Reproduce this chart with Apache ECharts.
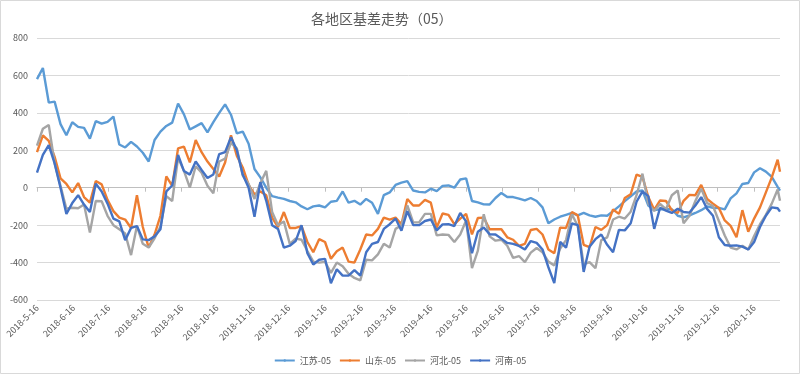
<!DOCTYPE html>
<html><head><meta charset="utf-8">
<script src="https://cdn.jsdelivr.net/npm/echarts@6/dist/echarts.min.js"></script>
<style>html,body{margin:0;padding:0;background:#fff}#c{width:800px;height:374px}</style>
</head><body><div id="c"></div>
<script>
// ---- data ----
const seriesNames = ['江苏-05', '山东-05', '河北-05', '河南-05'];
const dates = [
'2018-5-16','2018-5-21','2018-5-26','2018-5-31','2018-6-5','2018-6-10','2018-6-15','2018-6-20','2018-6-25','2018-6-30',
'2018-7-5','2018-7-10','2018-7-15','2018-7-20','2018-7-25','2018-7-30','2018-8-4','2018-8-9','2018-8-14','2018-8-19',
'2018-8-24','2018-8-29','2018-9-3','2018-9-8','2018-9-13','2018-9-18','2018-9-23','2018-9-28','2018-10-3','2018-10-8',
'2018-10-13','2018-10-18','2018-10-23','2018-10-28','2018-11-2','2018-11-7','2018-11-12','2018-11-17','2018-11-22','2018-11-27',
'2018-12-2','2018-12-7','2018-12-12','2018-12-17','2018-12-22','2018-12-27','2019-1-1','2019-1-6','2019-1-11','2019-1-16',
'2019-1-21','2019-1-26','2019-1-31','2019-2-5','2019-2-10','2019-2-15','2019-2-20','2019-2-25','2019-3-2','2019-3-7',
'2019-3-12','2019-3-17','2019-3-22','2019-3-27','2019-4-1','2019-4-6','2019-4-11','2019-4-16','2019-4-21','2019-4-26',
'2019-5-1','2019-5-6','2019-5-11','2019-5-16','2019-5-21','2019-5-26','2019-5-31','2019-6-5','2019-6-10','2019-6-15',
'2019-6-20','2019-6-25','2019-6-30','2019-7-5','2019-7-10','2019-7-15','2019-7-20','2019-7-25','2019-7-30','2019-8-4',
'2019-8-9','2019-8-14','2019-8-19','2019-8-24','2019-8-29','2019-9-3','2019-9-8','2019-9-13','2019-9-18','2019-9-23',
'2019-9-28','2019-10-3','2019-10-8','2019-10-13','2019-10-18','2019-10-23','2019-10-28','2019-11-2','2019-11-7','2019-11-12',
'2019-11-17','2019-11-22','2019-11-27','2019-12-2','2019-12-7','2019-12-12','2019-12-17','2019-12-22','2019-12-27','2020-1-1',
'2020-1-6','2020-1-11','2020-1-16','2020-1-21','2020-1-26','2020-1-31','2020-2-5','2020-2-7'
];
const jiangsu = [
580,640,455,460,340,280,350,325,320,262,
356,342,352,380,231,215,245,220,187,140,
255,300,330,348,450,392,311,328,345,296,
350,400,445,390,290,300,235,100,55,0,
-45,-53,-60,-71,-78,-100,-115,-100,-95,-105,
-75,-70,-20,-80,-70,-90,-60,-80,-140,-40,
-25,15,27,35,-15,-22,-25,-5,-18,10,
12,0,44,50,-71,-78,-89,-90,-55,-28,
-50,-50,-58,-68,-55,-71,-105,-190,-170,-155,
-145,-135,-148,-135,-148,-155,-148,-150,-125,-100,
-72,-46,-20,-15,-95,-120,-116,-115,-115,-150,
-158,-148,-135,-120,-100,-107,-108,-116,-57,-30,
20,25,82,104,86,58,5,-15
];
const shandong = [
190,280,250,165,50,20,-25,25,-50,-80,
36,18,-65,-125,-160,-170,-215,-40,-210,-320,
-250,-150,60,10,210,220,135,255,190,140,
100,60,135,280,170,108,15,-35,-20,-40,
-160,-210,-130,-215,-215,-205,-290,-345,-275,-290,
-380,-340,-320,-395,-400,-330,-250,-255,-220,-160,
-170,-160,-195,-60,-95,-95,-65,-80,-213,-138,
-145,-195,-165,-140,-249,-162,-160,-222,-222,-222,
-265,-278,-311,-300,-226,-220,-250,-330,-350,-213,
-215,-130,-148,-305,-318,-210,-225,-200,-116,-140,
-55,-35,70,58,-50,-118,-68,-71,-120,-135,
-70,-38,-40,15,-60,-85,-108,-175,-204,-265,
-120,-235,-165,-105,-25,55,150,85
];
const hebei = [
225,315,335,130,10,-112,-107,-110,-90,-240,
-71,-72,-150,-200,-222,-245,-360,-205,-300,-320,
-270,-207,-45,-71,160,90,0,115,80,10,
-30,140,155,240,210,65,20,-60,25,90,
-130,-200,-180,-300,-272,-278,-338,-395,-400,-396,
-455,-400,-420,-460,-482,-495,-385,-388,-356,-300,
-320,-220,-200,-95,-185,-185,-140,-140,-255,-250,
-252,-290,-250,-175,-430,-336,-142,-260,-283,-278,
-310,-375,-365,-398,-347,-322,-345,-395,-415,-325,
-280,-142,-205,-410,-398,-430,-280,-265,-170,-155,
-165,-128,-40,75,-85,-125,-87,-115,-40,-15,
-190,-150,-71,-5,-82,-98,-178,-255,-320,-330,
-310,-330,-258,-195,-145,-85,-10,-70
];
const henan = [
80,175,228,130,0,-140,-82,-40,-90,-130,
22,-20,-85,-165,-180,-280,-215,-205,-276,-280,
-260,-222,-20,12,175,89,70,140,95,52,
71,180,190,270,200,70,0,-155,30,-70,
-200,-220,-320,-310,-285,-200,-350,-410,-385,-380,
-510,-436,-470,-470,-440,-470,-345,-300,-290,-220,
-195,-165,-230,-125,-200,-200,-178,-170,-228,-196,
-195,-205,-135,-180,-350,-235,-213,-249,-250,-272,
-295,-300,-311,-330,-285,-295,-330,-425,-510,-290,
-320,-190,-200,-450,-315,-275,-250,-305,-345,-225,
-228,-190,-75,-20,-45,-220,-107,-122,-135,-112,
-130,-133,-95,-50,-113,-150,-265,-306,-310,-308,
-315,-330,-290,-210,-150,-105,-110,-128
];
const yMin = -600, yMax = 800, yStep = 200;
const axisStart = '2018-5-16', axisEnd = '2020-2-7';
const colors = ['#5B9BD5', '#ED7D31', '#A5A5A5', '#4472C4'];

// ---- build daily calendar categories for the date axis ----
function parseD(s){ const p = s.split('-').map(Number); return new Date(p[0], p[1]-1, p[2]); }
const categories = [];
for (let t = parseD(axisStart); t <= parseD(axisEnd); t.setDate(t.getDate() + 1)) {
  categories.push(t.getFullYear() + '-' + (t.getMonth() + 1) + '-' + t.getDate());
}
const isMonthTick = (i, v) => String(v).split('-')[2] === '16';
const values = [jiangsu, shandong, hebei, henan];

const font = "'Noto Sans CJK SC', 'Noto Sans', sans-serif";
const chart = echarts.init(document.getElementById('c'), null, {renderer: 'canvas'});
chart.setOption({
  animation: false,
  textStyle: {fontFamily: font},
  title: {
    text: '各地区基差走势（05）', left: 306, top: 7,
    textStyle: {fontSize: 14, fontWeight: 'normal', color: '#595959', fontFamily: font}
  },
  graphic: [{
    type: 'rect', silent: true, z: -10,
    shape: {x: 0.5, y: 0.5, width: 799, height: 373},
    style: {fill: 'none', stroke: '#d9d9d9', lineWidth: 1}
  }],
  legend: {
    data: seriesNames, left: 'center', top: 351,
    itemWidth: 20, itemHeight: 3, itemGap: 8,
    textStyle: {fontSize: 9, color: '#595959', fontFamily: font}
  },
  grid: {left: 37, right: 20, top: 38, bottom: 74, containLabel: false},
  xAxis: [{
    type: 'category', data: categories, boundaryGap: false, position: 'bottom',
    axisLine: {show: false, onZero: false},
    axisTick: {show: false},
    splitLine: {show: false},
    axisLabel: {interval: isMonthTick, rotate: 45, fontSize: 9, color: '#595959', margin: 6, fontFamily: font}
  }, {
    type: 'category', data: categories, boundaryGap: false, position: 'bottom',
    axisLine: {show: true, onZero: true, lineStyle: {color: '#bfbfbf', width: 1}},
    axisTick: {show: true, interval: isMonthTick, length: 4, lineStyle: {color: '#bfbfbf'}},
    axisLabel: {show: false},
    splitLine: {show: false}
  }],
  yAxis: {
    type: 'value', min: yMin, max: yMax, interval: yStep,
    axisLine: {show: false}, axisTick: {show: false},
    splitLine: {lineStyle: {color: '#d9d9d9', width: 1}},
    axisLabel: {fontSize: 9, color: '#595959', margin: 9, fontFamily: font}
  },
  series: seriesNames.map((name, k) => ({
    name, type: 'line', xAxisIndex: 0, symbol: 'none',
    lineStyle: {width: 2.4, color: colors[k]},
    itemStyle: {color: colors[k]},
    data: dates.map((d, i) => [d, values[k][i]])
  }))
});
</script></body></html>
